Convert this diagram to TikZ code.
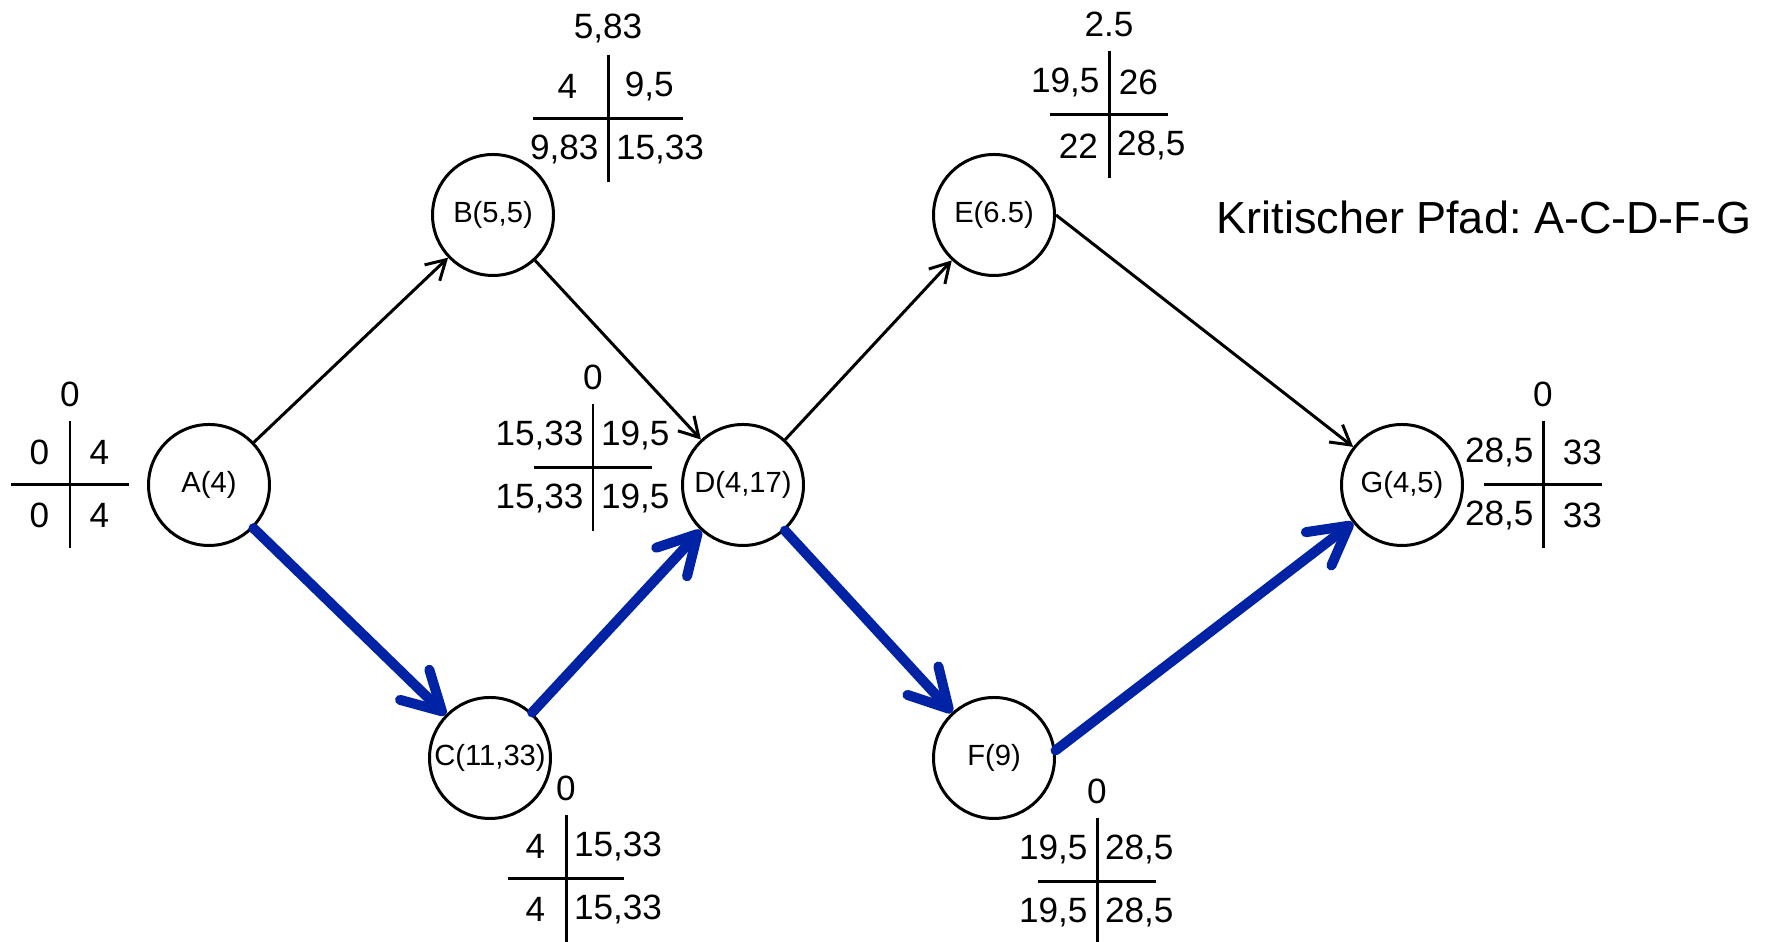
\documentclass[tikz,border=0pt]{standalone}
\usepackage{fontspec}
\setmainfont{Liberation Sans}
\usepackage{xcolor}
\usepackage{tikz}
\usetikzlibrary{matrix,arrows.meta}

\definecolor{kritisch}{RGB}{0,35,165}
\frenchspacing

\tikzset{
	vorgang/.style={circle, draw, line width=0.85pt, minimum size=1.21cm, inner sep=0pt, font=\fontsize{8.3}{10}\selectfont},
	tafel/.style={matrix of nodes, nodes={minimum width=0.6cm, minimum height=0.63cm, inner xsep=2.5pt, inner ysep=1pt, font=\fontsize{10}{12}\selectfont}, column sep=0pt, row sep=0pt, column 1/.style={nodes={anchor=east}}, column 2/.style={nodes={anchor=west}}},
	pfeil/.style={line width=0.85pt, -{Straight Barb[length=1.9mm,width=2.2mm]}},
	krit/.style={draw=kritisch, line width=2.85pt, line cap=round, -{Straight Barb[length=3.8mm,width=4.2mm,round]}},
}

\begin{document}
\begin{tikzpicture}
	\useasboundingbox (0,0) rectangle (17.72,9.42);
	% Vorgaenge
	\node[vorgang] (A) at (2.09,4.57) {A(4)};
	\node[vorgang] (B) at (4.93,7.27) {B(5,5)};
	\node[vorgang] (C) at (4.90,1.84) {C(11,33)};
	\node[vorgang] (D) at (7.43,4.57) {D(4,17)};
	\node[vorgang] (E) at (9.94,7.27) {E(6.5)};
	\node[vorgang] (F) at (9.94,1.84) {F(9)};
	\node[vorgang] (G) at (14.02,4.57) {G(4,5)};
	% Zeiten
	\matrix (tA)[tafel, matrix anchor=tA-1-1.south east] at (0.70,4.57){
		0 & 4\\
		0 & 4\\
	};
	\matrix (tB)[tafel, matrix anchor=tB-1-1.south east, column 1/.style={nodes={anchor=east, minimum width=0.8cm}}, column 2/.style={nodes={anchor=west, minimum width=0.84cm}}] at (6.08,8.23){
		4 & 9,5\\
		9,83 & 15,33\\
	};
	\matrix (tC)[tafel, matrix anchor=tC-1-1.south east] at (5.66,0.63){
		4 & 15,33\\
		4 & 15,33\\
	};
	\matrix (tD)[tafel, matrix anchor=tD-1-1.south east] at (5.93,4.74){
		15,33 & 19,5\\
		15,33 & 19,5\\
	};
	\matrix (tE)[tafel, matrix anchor=tE-1-1.south east] at (11.09,8.27){
		19,5 & 26\\
		22 & 28,5\\
	};
	\matrix (tF)[tafel, matrix anchor=tF-1-1.south east] at (10.97,0.60){
		19,5 & 28,5\\
		19,5 & 28,5\\
	};
	\matrix (tG)[tafel, matrix anchor=tG-1-1.south east, column 2/.style={nodes={anchor=west, minimum width=0.8cm}}] at (15.43,4.57){
		28,5 & 33\\
		28,5 & 33\\
	};
	\foreach \t/\w/\p in {A/0.59/0, B/0.75/{5,83}, C/0.58/0, D/0.59/0, E/0.59/2.5, F/0.59/0, G/0.59/0}{
		\draw[line width=0.85pt] (t\t-1-1.north east) -- (t\t-2-1.south east);
		\draw[line width=0.85pt] ([xshift=-\w cm]t\t-1-1.south east) -- ([xshift=\w cm]t\t-1-1.south east);
		\node[font=\fontsize{10}{12}\selectfont] (p\t) at ([yshift=0.26cm]t\t-1-1.north east) {\p};
	}
	% Pfeile
	\draw[pfeil] (A) -- (B);
	\draw[krit] (A) -- (C);
	\draw[pfeil] (B) -- (D);
	\draw[krit] (C) -- (D);
	\draw[pfeil] (D) -- (E);
	\draw[krit] (D) -- (F);
	\draw[pfeil] (E.east) -- (G);
	\draw[krit] (F.7) -- (G);
	\node[font=\fontsize{12.8}{15}\selectfont] (titel) at (14.84,7.25) {Kritischer Pfad: A-C-D-F-G};
\end{tikzpicture}
\end{document}
